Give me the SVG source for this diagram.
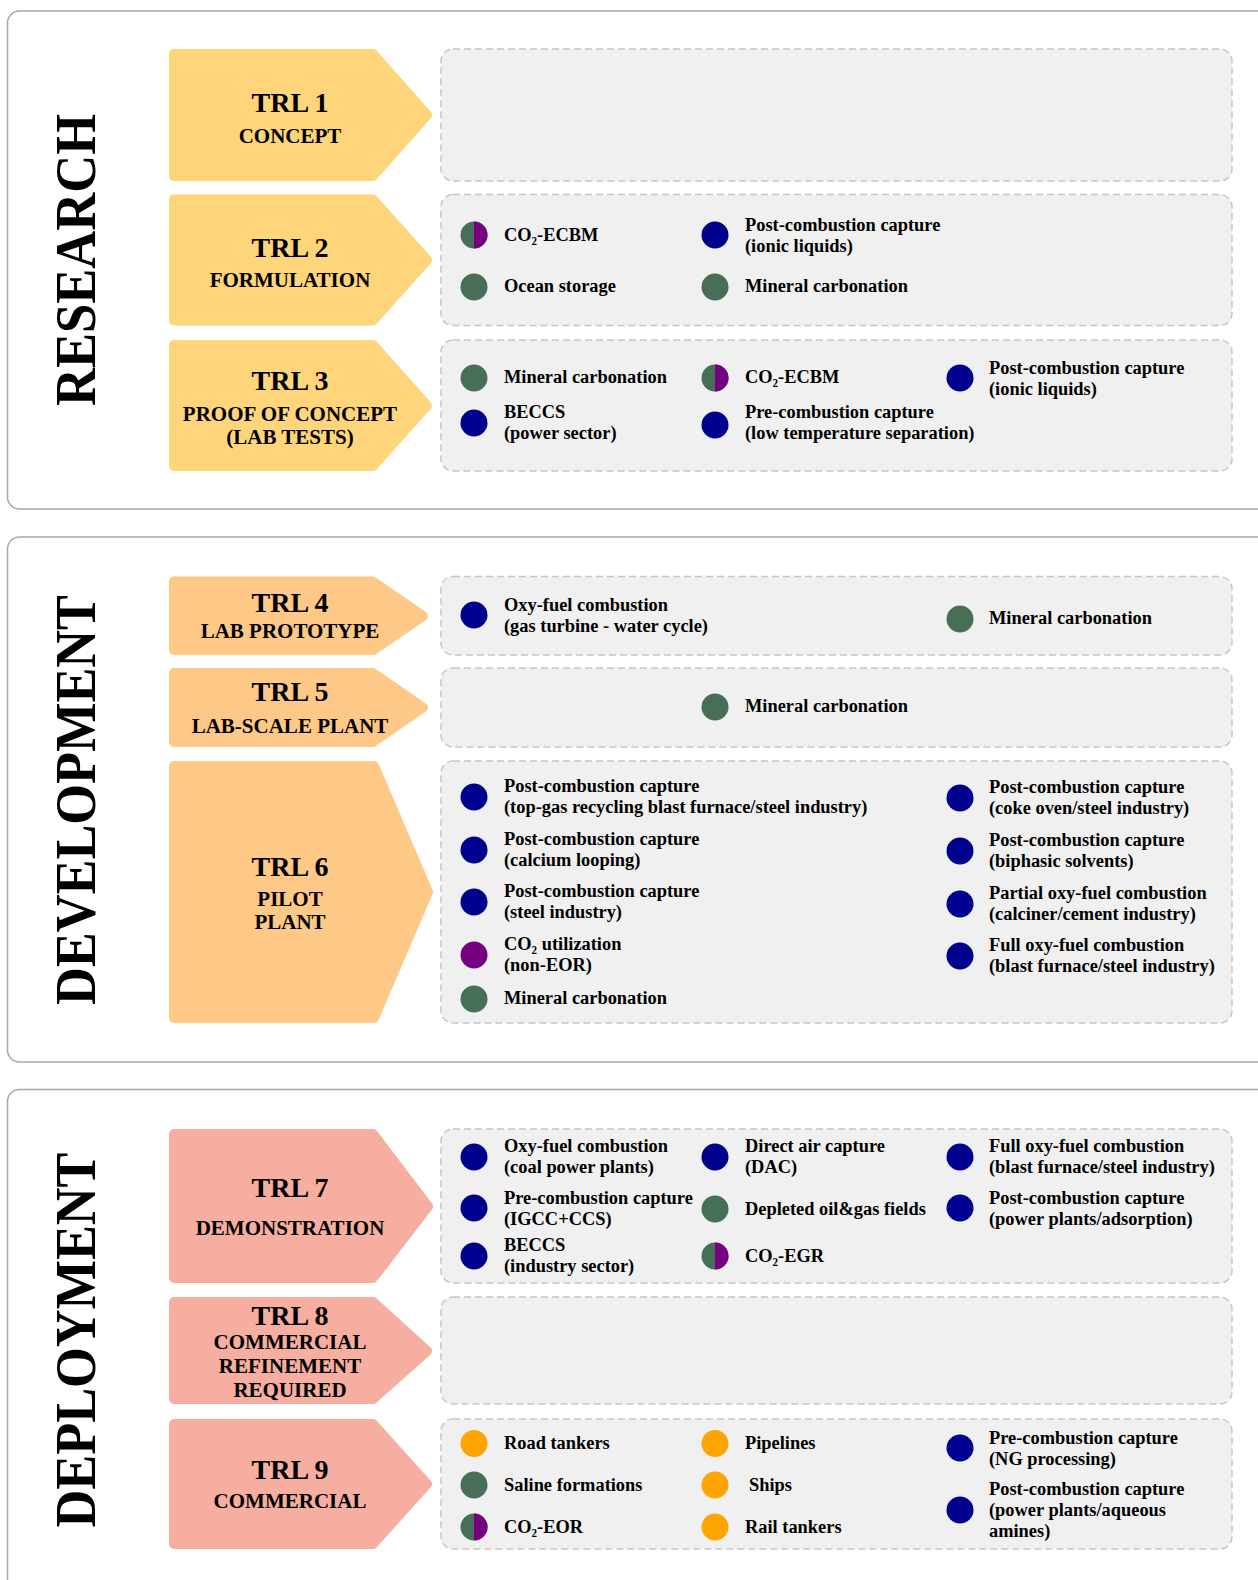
<svg xmlns="http://www.w3.org/2000/svg" width="1258" height="1580" viewBox="0 0 1258 1580">
<style>
.panel{fill:#ffffff;stroke:#a8a8a8;stroke-width:1.5}
.box{fill:#f0f0f0;stroke:#c6c6c6;stroke-width:1.5;stroke-dasharray:7 4}
.ar1{fill:#FED57B;stroke:#FED57B;stroke-width:10;stroke-linejoin:round}
.ar2{fill:#FEC886;stroke:#FEC886;stroke-width:10;stroke-linejoin:round}
.ar3{fill:#F5AE9F;stroke:#F5AE9F;stroke-width:10;stroke-linejoin:round}
text{font-family:"Liberation Serif","Times New Roman",serif;font-weight:bold;fill:#000}
.big{font-size:56px;text-anchor:middle}
.trl{font-size:28px;text-anchor:middle}
.sub{font-size:21px;text-anchor:middle}
.it{font-size:18.4px}
.b{fill:#00008E}
.g{fill:#476E56}
.p{fill:#750080}
.o{fill:#FFA502}
</style>
<defs>
<g id="half"><circle r="13.5" fill="#476E56"/><path d="M0,-13.5 A13.5,13.5 0 0 1 0,13.5 Z" fill="#750080"/></g>
</defs>

<g id="panel-research">
<rect class="panel" x="7.5" y="11" width="1300" height="498" rx="12"/>
<text class="big" transform="translate(95,260) rotate(-90)" textLength="292" lengthAdjust="spacingAndGlyphs">RESEARCH</text>
</g>
<g id="panel-development">
<rect class="panel" x="7.5" y="537" width="1300" height="525" rx="12"/>
<text class="big" transform="translate(95,800) rotate(-90)" textLength="410" lengthAdjust="spacingAndGlyphs">DEVELOPMENT</text>
</g>
<g id="panel-deployment">
<rect class="panel" x="7.5" y="1089.5" width="1300" height="600" rx="12"/>
<text class="big" transform="translate(95,1340) rotate(-90)" textLength="375" lengthAdjust="spacingAndGlyphs">DEPLOYMENT</text>
</g>

<g id="trl1">
<polygon class="ar1" points="174,54 373,54 427,115 373,176 174,176"/>
<text class="trl" x="290" y="112">TRL 1</text>
<text class="sub" x="290" y="143">CONCEPT</text>
<rect class="box" x="441" y="49" width="791" height="132" rx="12"/>
</g>

<g id="trl2">
<polygon class="ar1" points="174,199.5 373,199.5 427,260 373,320.5 174,320.5"/>
<text class="trl" x="290" y="257">TRL 2</text>
<text class="sub" x="290" y="287">FORMULATION</text>
<rect class="box" x="441" y="194.5" width="791" height="131" rx="12"/>
<use href="#half" x="474" y="235"/>
<text class="it" x="504" y="241">CO₂-ECBM</text>
<circle class="b" cx="715" cy="235" r="13.5"/>
<text class="it" x="745" y="231">Post-combustion capture</text>
<text class="it" x="745" y="252">(ionic liquids)</text>
<circle class="g" cx="474" cy="287" r="13.5"/>
<text class="it" x="504" y="292">Ocean storage</text>
<circle class="g" cx="715" cy="287" r="13.5"/>
<text class="it" x="745" y="292">Mineral carbonation</text>
</g>

<g id="trl3">
<polygon class="ar1" points="174,345 373,345 427,405.5 373,466 174,466"/>
<text class="trl" x="290" y="390">TRL 3</text>
<text class="sub" x="290" y="421">PROOF OF CONCEPT</text>
<text class="sub" x="290" y="444">(LAB TESTS)</text>
<rect class="box" x="441" y="340" width="791" height="131" rx="12"/>
<circle class="g" cx="474" cy="378" r="13.5"/>
<text class="it" x="504" y="383">Mineral carbonation</text>
<use href="#half" x="715" y="378"/>
<text class="it" x="745" y="383">CO₂-ECBM</text>
<circle class="b" cx="960" cy="378" r="13.5"/>
<text class="it" x="989" y="374">Post-combustion capture</text>
<text class="it" x="989" y="395">(ionic liquids)</text>
<circle class="b" cx="474" cy="423" r="13.5"/>
<text class="it" x="504" y="418">BECCS</text>
<text class="it" x="504" y="439">(power sector)</text>
<circle class="b" cx="715" cy="425" r="13.5"/>
<text class="it" x="745" y="418">Pre-combustion capture</text>
<text class="it" x="745" y="439">(low temperature separation)</text>
</g>

<g id="trl4">
<polygon class="ar2" points="174,581.5 373,581.5 423,616 373,650 174,650"/>
<text class="trl" x="290" y="612">TRL 4</text>
<text class="sub" x="290" y="638">LAB PROTOTYPE</text>
<rect class="box" x="441" y="576.5" width="791" height="78.5" rx="12"/>
<circle class="b" cx="474" cy="615" r="13.5"/>
<text class="it" x="504" y="611">Oxy-fuel combustion</text>
<text class="it" x="504" y="632">(gas turbine - water cycle)</text>
<circle class="g" cx="960" cy="619" r="13.5"/>
<text class="it" x="989" y="624">Mineral carbonation</text>
</g>

<g id="trl5">
<polygon class="ar2" points="174,673 373,673 423,707.5 373,742 174,742"/>
<text class="trl" x="290" y="701">TRL 5</text>
<text class="sub" x="290" y="733">LAB-SCALE PLANT</text>
<rect class="box" x="441" y="668" width="791" height="79" rx="12"/>
<circle class="g" cx="715" cy="707" r="13.5"/>
<text class="it" x="745" y="712">Mineral carbonation</text>
</g>

<g id="trl6">
<polygon class="ar2" points="174,766 374,766 428,892 374,1018 174,1018"/>
<text class="trl" x="290" y="876">TRL 6</text>
<text class="sub" x="290" y="906">PILOT</text>
<text class="sub" x="290" y="929">PLANT</text>
<rect class="box" x="441" y="761" width="791" height="262" rx="12"/>
<circle class="b" cx="474" cy="797" r="13.5"/>
<text class="it" x="504" y="792">Post-combustion capture</text>
<text class="it" x="504" y="813">(top-gas recycling blast furnace/steel industry)</text>
<circle class="b" cx="474" cy="850" r="13.5"/>
<text class="it" x="504" y="845">Post-combustion capture</text>
<text class="it" x="504" y="866">(calcium looping)</text>
<circle class="b" cx="474" cy="902" r="13.5"/>
<text class="it" x="504" y="897">Post-combustion capture</text>
<text class="it" x="504" y="918">(steel industry)</text>
<circle class="p" cx="474" cy="955" r="13.5"/>
<text class="it" x="504" y="950">CO₂ utilization</text>
<text class="it" x="504" y="971">(non-EOR)</text>
<circle class="g" cx="474" cy="999" r="13.5"/>
<text class="it" x="504" y="1004">Mineral carbonation</text>
<circle class="b" cx="960" cy="798" r="13.5"/>
<text class="it" x="989" y="793">Post-combustion capture</text>
<text class="it" x="989" y="814">(coke oven/steel industry)</text>
<circle class="b" cx="960" cy="851" r="13.5"/>
<text class="it" x="989" y="846">Post-combustion capture</text>
<text class="it" x="989" y="867">(biphasic solvents)</text>
<circle class="b" cx="960" cy="904" r="13.5"/>
<text class="it" x="989" y="899">Partial oxy-fuel combustion</text>
<text class="it" x="989" y="920">(calciner/cement industry)</text>
<circle class="b" cx="960" cy="956" r="13.5"/>
<text class="it" x="989" y="951">Full oxy-fuel combustion</text>
<text class="it" x="989" y="972">(blast furnace/steel industry)</text>
</g>

<g id="trl7">
<polygon class="ar3" points="174,1134 373,1134 428,1206.5 373,1278 174,1278"/>
<text class="trl" x="290" y="1197">TRL 7</text>
<text class="sub" x="290" y="1235">DEMONSTRATION</text>
<rect class="box" x="441" y="1129" width="791" height="154" rx="12"/>
<circle class="b" cx="474" cy="1157" r="13.5"/>
<text class="it" x="504" y="1152">Oxy-fuel combustion</text>
<text class="it" x="504" y="1173">(coal power plants)</text>
<circle class="b" cx="474" cy="1208" r="13.5"/>
<text class="it" x="504" y="1204">Pre-combustion capture</text>
<text class="it" x="504" y="1225">(IGCC+CCS)</text>
<circle class="b" cx="474" cy="1256" r="13.5"/>
<text class="it" x="504" y="1251">BECCS</text>
<text class="it" x="504" y="1272">(industry sector)</text>
<circle class="b" cx="715" cy="1157" r="13.5"/>
<text class="it" x="745" y="1152">Direct air capture</text>
<text class="it" x="745" y="1173">(DAC)</text>
<circle class="g" cx="715" cy="1209" r="13.5"/>
<text class="it" x="745" y="1215">Depleted oil&amp;gas fields</text>
<use href="#half" x="715" y="1256"/>
<text class="it" x="745" y="1262">CO₂-EGR</text>
<circle class="b" cx="960" cy="1157" r="13.5"/>
<text class="it" x="989" y="1152">Full oxy-fuel combustion</text>
<text class="it" x="989" y="1173">(blast furnace/steel industry)</text>
<circle class="b" cx="960" cy="1208" r="13.5"/>
<text class="it" x="989" y="1204">Post-combustion capture</text>
<text class="it" x="989" y="1225">(power plants/adsorption)</text>
</g>

<g id="trl8">
<polygon class="ar3" points="174,1302 373,1302 427,1351 373,1399 174,1399"/>
<text class="trl" x="290" y="1325">TRL 8</text>
<text class="sub" x="290" y="1349">COMMERCIAL</text>
<text class="sub" x="290" y="1373">REFINEMENT</text>
<text class="sub" x="290" y="1397">REQUIRED</text>
<rect class="box" x="441" y="1297" width="791" height="107" rx="12"/>
</g>

<g id="trl9">
<polygon class="ar3" points="174,1424 373,1424 427,1484 373,1544 174,1544"/>
<text class="trl" x="290" y="1479">TRL 9</text>
<text class="sub" x="290" y="1508">COMMERCIAL</text>
<rect class="box" x="441" y="1419" width="791" height="130" rx="12"/>
<circle class="o" cx="474" cy="1443.5" r="13.5"/>
<text class="it" x="504" y="1449">Road tankers</text>
<circle class="g" cx="474" cy="1485" r="13.5"/>
<text class="it" x="504" y="1491">Saline formations</text>
<use href="#half" x="474" y="1527"/>
<text class="it" x="504" y="1533">CO₂-EOR</text>
<circle class="o" cx="715" cy="1443.5" r="13.5"/>
<text class="it" x="745" y="1449">Pipelines</text>
<circle class="o" cx="715" cy="1485" r="13.5"/>
<text class="it" x="749" y="1491">Ships</text>
<circle class="o" cx="715" cy="1527" r="13.5"/>
<text class="it" x="745" y="1533">Rail tankers</text>
<circle class="b" cx="960" cy="1448" r="13.5"/>
<text class="it" x="989" y="1444">Pre-combustion capture</text>
<text class="it" x="989" y="1465">(NG processing)</text>
<circle class="b" cx="960" cy="1510" r="13.5"/>
<text class="it" x="989" y="1495">Post-combustion capture</text>
<text class="it" x="989" y="1516">(power plants/aqueous</text>
<text class="it" x="989" y="1537">amines)</text>
</g>

<g id="connectors"></g>
</svg>
